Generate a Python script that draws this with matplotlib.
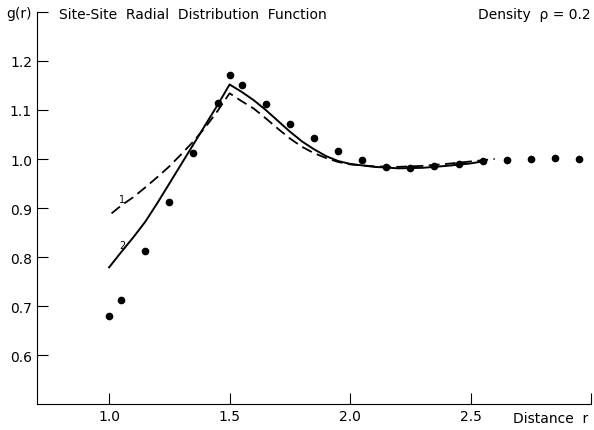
import numpy as np
import matplotlib.pyplot as plt

# simulation points
r_dots = [1.0, 1.05, 1.15, 1.25, 1.35, 1.45, 1.5, 1.55, 1.65, 1.75, 1.85,
          1.95, 2.05, 2.15, 2.25, 2.35, 2.45, 2.55, 2.65, 2.75, 2.85, 2.95]
g_dots = [0.680, 0.712, 0.813, 0.913, 1.012, 1.114, 1.172, 1.150, 1.112, 1.071, 1.043,
          1.016, 0.998, 0.984, 0.982, 0.986, 0.990, 0.996, 0.998, 1.000, 1.002, 1.000]

# curve 1 (dashed)
r_1 = [1.01, 1.05, 1.1, 1.15, 1.2, 1.25, 1.3, 1.35, 1.4, 1.45, 1.5,
       1.55, 1.6, 1.65, 1.7, 1.75, 1.8, 1.85, 1.9, 1.95, 2.0, 2.1, 2.2, 2.3, 2.4, 2.5, 2.6]
g_1 = [0.889, 0.905, 0.922, 0.942, 0.963, 0.985, 1.010, 1.036, 1.065, 1.098, 1.134,
       1.118, 1.103, 1.083, 1.062, 1.042, 1.025, 1.012, 1.002, 0.994, 0.989, 0.985,
       0.984, 0.986, 0.990, 0.995, 1.000]

# curve 2 (solid)
r_2 = [1.0, 1.05, 1.1, 1.15, 1.2, 1.25, 1.3, 1.35, 1.4, 1.45, 1.5,
       1.55, 1.6, 1.65, 1.7, 1.75, 1.8, 1.85, 1.9, 1.95, 2.0, 2.1, 2.2, 2.3, 2.4, 2.5, 2.55]
g_2 = [0.779, 0.810, 0.840, 0.872, 0.910, 0.950, 0.990, 1.030, 1.070, 1.110, 1.152,
       1.137, 1.120, 1.100, 1.078, 1.056, 1.036, 1.020, 1.006, 0.996, 0.990, 0.984,
       0.981, 0.982, 0.986, 0.991, 0.995]

xticks = [1.0, 1.5, 2.0, 2.5]
yticks = [0.6, 0.7, 0.8, 0.9, 1.0, 1.1, 1.2, 1.3]
ylabels = ['0.6', '0.7', '0.8', '0.9', '1.0', '1.1', '1.2', 'g(r)']

plt.rcParams['font.family'] = ['DejaVu Sans']

fig = plt.figure(figsize=(5.94, 4.31), dpi=100)
ax = fig.add_axes([0.062, 0.060, 0.933, 0.910])

ax.plot(r_1, g_1, color='black', lw=1.3, dashes=(6, 3))
ax.plot(r_2, g_2, color='black', lw=1.4)
ax.plot(r_dots, g_dots, 'o', color='black', ms=4.5)

ax.text(1.04, 0.912, '1', fontsize=7)
ax.text(1.04, 0.818, '2', fontsize=7)

ax.set_xlim(0.7, 3.0)
ax.set_ylim(0.5, 1.3)
ax.spines['top'].set_visible(False)
ax.spines['right'].set_visible(False)
ax.set_xticks(xticks + [3.0])
ax.set_xticklabels([f'{x:.1f}' for x in xticks] + [''])
ax.set_yticks(yticks)
ax.set_yticklabels(ylabels)
ax.tick_params(direction='in', length=8, width=0.8, labelsize=10)

ax.text(2.99, 0.5, 'Distance  r', ha='right', va='top', fontsize=10,
        transform=ax.transData).set_y(0.5 - 0.013)

fig.text(0.10, 0.965, 'Site-Site  Radial  Distribution  Function', fontsize=10, va='center')
fig.text(0.805, 0.965, 'Density  \u03c1 = 0.2', fontsize=10, va='center')

fig.savefig('out.png', dpi=100)
